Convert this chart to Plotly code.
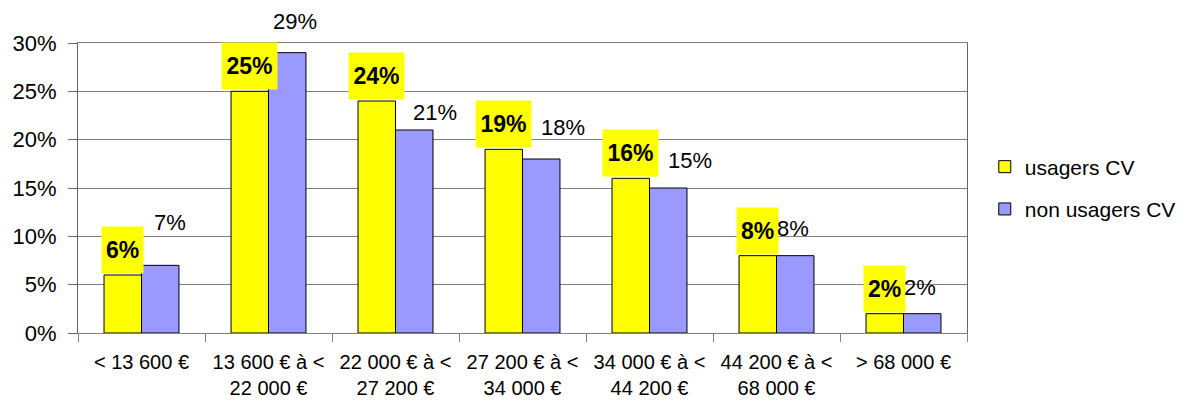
import plotly.graph_objects as go

categories = ["< 13 600 €", "13 600 € à <<br>22 000 €", "22 000 € à <<br>27 200 €",
              "27 200 € à <<br>34 000 €", "34 000 € à <<br>44 200 €", "44 200 € à <<br>68 000 €",
              "> 68 000 €"]
usagers = [0.06, 0.25, 0.24, 0.19, 0.16, 0.08, 0.02]
non_usagers = [0.07, 0.29, 0.21, 0.18, 0.15, 0.08, 0.02]
series_names = ["usagers CV", "non usagers CV"]

# style: pixel offsets of the plain labels (manually moved in the source)
label_dx = [10, 8, 21, 22, 22, -2, -2]
label_dy = [43, 31, 18, 32, 28, 27, 26]

FONT = "Liberation Sans, Arial, sans-serif"
YELLOW = "#FFFF00"
BLUE = "#9999FF"

fig = go.Figure()
fig.add_trace(go.Bar(x=categories, y=usagers, name=series_names[0], legendgroup="a",
                     marker=dict(color=YELLOW, line=dict(color="#000000", width=1))))
fig.add_trace(go.Bar(x=categories, y=non_usagers, name=series_names[1], legendgroup="b",
                     marker=dict(color=BLUE, line=dict(color="#000000", width=1))))

BAR_HALF = 18.75
for i, c in enumerate(categories):
    txt = f"{round(usagers[i]*100)}%"
    fig.add_annotation(x=c, y=usagers[i], xref="x", yref="y", text=f"<b>{txt}</b>",
                       showarrow=False, xshift=-BAR_HALF, yshift=1, yanchor="bottom",
                       xanchor="center", bgcolor=YELLOW, borderpad=0,
                       width=41 if len(txt) == 2 else 55, height=46,
                       font=dict(family=FONT, size=23, color="#000000"))
    fig.add_annotation(x=c, y=non_usagers[i], xref="x", yref="y",
                       text=f"{round(non_usagers[i]*100)}%",
                       showarrow=False, xshift=BAR_HALF + label_dx[i], yshift=label_dy[i],
                       yanchor="middle", xanchor="center",
                       font=dict(family=FONT, size=22, color="#000000"))

fig.update_layout(
    width=1195, height=393,
    margin=dict(l=70, r=236, t=35, b=68),
    paper_bgcolor="#FFFFFF", plot_bgcolor="#FFFFFF",
    barmode="group", bargap=0.41, bargroupgap=0,
    font=dict(family=FONT, color="#000000"),
    legend=dict(x=1.02, xanchor="left", y=0.5, yanchor="middle",
                font=dict(family=FONT, size=21, color="#000000"),
                tracegroupgap=12, traceorder="grouped", bgcolor="rgba(0,0,0,0)"),
    showlegend=True,
)
fig.update_xaxes(
    showgrid=False, showline=True, linecolor="#808080", linewidth=1, mirror=True,
    ticks="outside", tickson="boundaries", ticklen=8, tickcolor="#808080",
    tickfont=dict(family=FONT, size=20, color="#000000"), ticklabelstandoff=11,
    automargin=False,
)
fig.update_yaxes(
    range=[0, 0.30], dtick=0.05, tickformat=".0%",
    showgrid=True, gridcolor="#808080", gridwidth=1,
    showline=True, linecolor="#666666", linewidth=1, mirror=True,
    ticks="outside", ticklen=9, tickcolor="#666666",
    tickfont=dict(family=FONT, size=22, color="#000000"), ticklabelstandoff=7,
    zeroline=False, automargin=False,
)

fig.write_html("out.html")
